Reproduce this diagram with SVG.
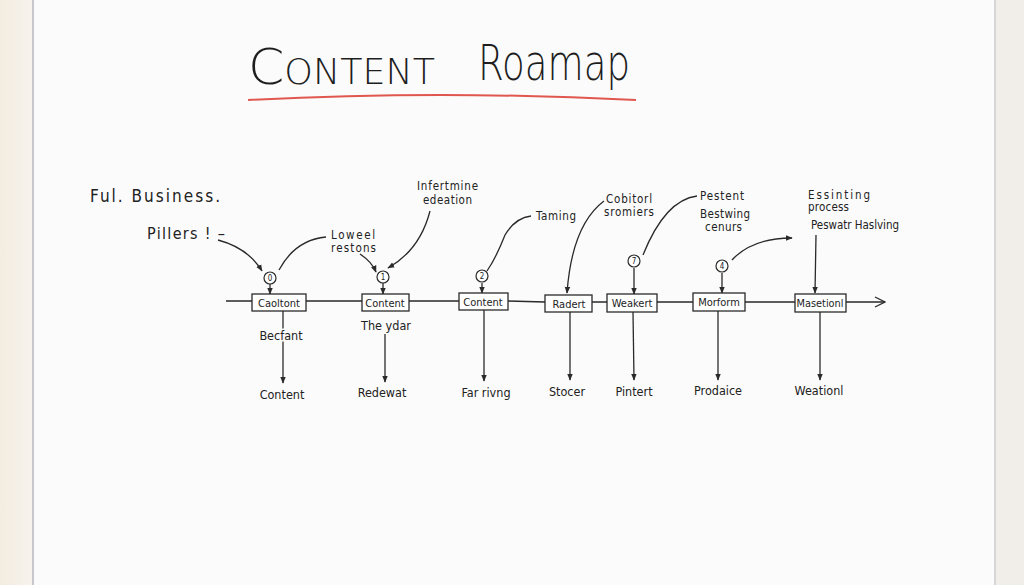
<svg xmlns="http://www.w3.org/2000/svg" width="1024" height="585" viewBox="0 0 1024 585">
<defs>
<marker id="ah" viewBox="0 0 10 10" refX="9" refY="5" markerWidth="7" markerHeight="7" orient="auto-start-reverse" markerUnits="userSpaceOnUse">
<path d="M0,1 L10,5 L0,9 z" fill="#2a2a2a"/>
</marker>
<marker id="open" viewBox="0 0 12 12" refX="11" refY="6" markerWidth="12" markerHeight="12" orient="auto" markerUnits="userSpaceOnUse">
<path d="M1,1 L11,6 L1,11" fill="none" stroke="#2a2a2a" stroke-width="1.3"/>
</marker>
<linearGradient id="lft" x1="0" x2="1" y1="0" y2="0">
<stop offset="0" stop-color="#f3ece0"/><stop offset="1" stop-color="#f7f3ec"/>
</linearGradient>
</defs>
<style>
text{font-family:"DejaVu Sans Condensed","Liberation Sans",sans-serif;fill:#222;}
.t{font-size:12.5px;}
.bt{font-size:11px;}
.s{font-size:11.5px;}
.b{fill:#fff;stroke:#2a2a2a;stroke-width:1.3;}
.c{fill:#fff;stroke:#2a2a2a;stroke-width:1.2;}
.ln{fill:none;stroke:#2a2a2a;stroke-width:1.3;}
.n{font-size:8px;text-anchor:middle;}
.m{text-anchor:middle;}
.ttl{font-family:"DejaVu Sans","Open Sans",sans-serif;font-weight:200;font-size:50px;fill:#1e1e1e;}
</style>
<rect width="1024" height="585" fill="#f6f2ea"/>
<rect x="0" y="0" width="32" height="585" fill="url(#lft)"/>
<rect x="33" y="0" width="962" height="585" fill="#fbfbfb"/>
<line x1="33" y1="0" x2="33" y2="585" stroke="#c8c8cc" stroke-width="2"/>
<line x1="995" y1="0" x2="995" y2="585" stroke="#d6d6d8" stroke-width="2"/>
<rect x="996" y="0" width="28" height="585" fill="#f1eee9"/>

<g id="title">
<text class="ttl" x="248" y="84" style="font-variant:small-caps" textLength="187" lengthAdjust="spacingAndGlyphs">Content</text>
<text class="ttl" x="478" y="80" textLength="152" lengthAdjust="spacingAndGlyphs">Roamap</text>
<path d="M248,100 Q440,90 636,100" fill="none" stroke="#e0574f" stroke-width="2"/>
</g>

<g id="connectors">
<path class="ln" d="M226,301 L252,301 M306,301 L362,301 M409,301 L459,301 M508,301 L545,302 M592,302 L607,302 M657,302 L693,302 M745,302 L795,302 M846,302 L885,302" marker-end="url(#open)"/>
<path class="ln" d="M270,284 L270,294" marker-end="url(#ah)"/>
<path class="ln" d="M383,283 L383,294" marker-end="url(#ah)"/>
<path class="ln" d="M482,283 L482,293" marker-end="url(#ah)"/>
<path class="ln" d="M634,268 L634,294" marker-end="url(#ah)"/>
<path class="ln" d="M722,273 L722,293" marker-end="url(#ah)"/>
<path class="ln" d="M283,311 L283,383" marker-end="url(#ah)"/>
<path class="ln" d="M385,334 L385,382" marker-end="url(#ah)"/>
<path class="ln" d="M484,310 L484,381" marker-end="url(#ah)"/>
<path class="ln" d="M570,312 L570,380" marker-end="url(#ah)"/>
<path class="ln" d="M633,312 L634,380" marker-end="url(#ah)"/>
<path class="ln" d="M718,311 L718,380" marker-end="url(#ah)"/>
<path class="ln" d="M820,312 L820,380" marker-end="url(#ah)"/>
<path class="ln" d="M218,240 Q248,248 262,271" marker-end="url(#ah)"/>
<path class="ln" d="M279,270 Q295,240 326,237"/>
<path class="ln" d="M360,254 Q372,262 376,272" marker-end="url(#ah)"/>
<path class="ln" d="M430,211 Q420,250 388,268" marker-end="url(#ah)"/>
<path class="ln" d="M531,216 Q515,218 505,235 Q496,258 487,271"/>
<path class="ln" d="M604,201 Q572,225 567,293" marker-end="url(#ah)"/>
<path class="ln" d="M697,196 Q665,200 643,255"/>
<path class="ln" d="M732,260 Q752,238 792,238" marker-end="url(#ah)"/>
<path class="ln" d="M816,235 L815,293" marker-end="url(#ah)"/>
</g>

<g id="labels">
<text x="90" y="202" style="font-size:17px" textLength="130">Ful.  Business.</text>
<text x="147" y="239" style="font-size:16px" textLength="78">Pillers ! –</text>
<text x="331" y="239" class="s" textLength="44">Loweel</text>
<text x="331" y="252" class="s" textLength="45">restons</text>
<text x="417" y="190" class="s" textLength="61">Infertmine</text>
<text x="423" y="204" class="s" textLength="49">edeation</text>
<text x="536" y="220" class="s" textLength="40">Taming</text>
<text x="606" y="203" class="s" textLength="46">Cobitorl</text>
<text x="604" y="216" class="s" textLength="50">sromiers</text>
<text x="700" y="200" class="s" textLength="44">Pestent</text>
<text x="700" y="218" class="s" textLength="50">Bestwing</text>
<text x="705" y="231" class="s" textLength="37">cenurs</text>
<text x="808" y="199" class="s" textLength="62">Essinting</text>
<text x="808" y="211" class="s" textLength="41">process</text>
<text x="811" y="229" class="s" textLength="88">Peswatr Haslving</text>
</g>

<g id="n1"><circle class="c" cx="270" cy="278" r="6"/><text class="n" x="270" y="281">0</text>
<rect class="b" x="252" y="294" width="54" height="17"/><text class="bt m" x="279" y="306.5">Caoltont</text>
<text class="t m" x="281" y="340" style="paint-order:stroke;stroke:#fbfbfb;stroke-width:3px">Becfant</text>
<text class="t m" x="282" y="399">Content</text></g>

<g id="n2"><circle class="c" cx="383" cy="277" r="6"/><text class="n" x="383" y="280">1</text>
<rect class="b" x="362" y="294" width="47" height="17"/><text class="bt m" x="385" y="306.5">Content</text>
<text class="t m" x="386" y="330">The ydar</text>
<text class="t m" x="382" y="397">Redewat</text></g>

<g id="n3"><circle class="c" cx="482" cy="276" r="6"/><text class="n" x="482" y="279">2</text>
<rect class="b" x="459" y="293" width="49" height="17"/><text class="bt m" x="483" y="305.5">Content</text>
<text class="t m" x="486" y="397">Far rivng</text></g>

<g id="n4">
<rect class="b" x="545" y="295" width="47" height="17"/><text class="bt m" x="569" y="307.5">Radert</text>
<text class="t m" x="567" y="396">Stocer</text></g>

<g id="n5"><circle class="c" cx="634" cy="261" r="6"/><text class="n" x="634" y="264">7</text>
<rect class="b" x="607" y="294" width="50" height="18"/><text class="bt m" x="632" y="307">Weakert</text>
<text class="t m" x="634" y="396">Pintert</text></g>

<g id="n6"><circle class="c" cx="722" cy="266" r="6"/><text class="n" x="722" y="269">4</text>
<rect class="b" x="693" y="293" width="52" height="18"/><text class="bt m" x="719" y="306">Morform</text>
<text class="t m" x="718" y="395">Prodaice</text></g>

<g id="n7">
<rect class="b" x="795" y="294" width="51" height="18"/><text class="bt m" x="820" y="307" textLength="47" lengthAdjust="spacingAndGlyphs">Masetionl</text>
<text class="t m" x="819" y="395">Weationl</text></g>
</svg>
